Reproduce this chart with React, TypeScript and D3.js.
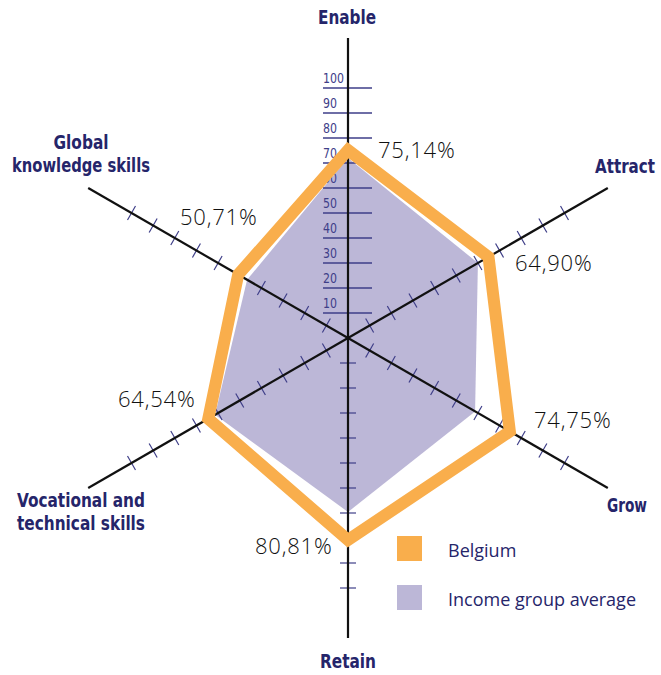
import React from "react";
import * as d3 from "d3";

const axes = ["Enable", "Attract", "Grow", "Retain", "Vocational and technical skills", "Global knowledge skills"];
const belgium = [75.14, 64.9, 74.75, 80.81, 64.54, 50.71];
const incomeAvg = [72, 60, 58.7, 69.6, 61.4, 46.6];
const valueLabels = ["75,14%", "64,90%", "74,75%", "80,81%", "64,54%", "50,71%"];
const tickValues = [10, 20, 30, 40, 50, 60, 70, 80, 90, 100];
const seriesNames = ["Belgium", "Income group average"];

const W = 661, H = 675;
const cx = 348, cy = 338;
const NAVY = "#25256a";
const TICK = "#3e3e88";
const ORANGE = "#F9AE4C";
const PURPLE = "#BCB7D7";
const LABEL_FONT = "'Liberation Sans Narrow', 'DejaVu Sans Condensed', sans-serif";

export default function App() {
  const r = d3.scaleLinear().domain([0, 100]).range([0, 250]);
  const angle = d3.scaleLinear().domain([0, axes.length]).range([0, 2 * Math.PI]);
  const pt = (i: number, v: number) => {
    const a = angle(i);
    return [cx + r(v) * Math.sin(a), cy - r(v) * Math.cos(a)];
  };
  const radial = d3
    .lineRadial<number>()
    .angle((_, i) => angle(i))
    .radius((d) => r(d))
    .curve(d3.curveLinearClosed);

  const axisLabelPos = [
    { x: 347, y: 24, lines: ["Enable"], widths: [58] },
    { x: 625, y: 173, lines: ["Attract"], widths: [60] },
    { x: 627, y: 512, lines: ["Grow"], widths: [40] },
    { x: 348, y: 668, lines: ["Retain"], widths: [56] },
    { x: 81, y: 507, lines: ["Vocational and", "technical skills"], widths: [128, 128] },
    { x: 81, y: 149, lines: ["Global", "knowledge skills"], widths: [55, 138] },
  ];
  const valuePos = [
    { x: 378, y: 158 },
    { x: 515, y: 271 },
    { x: 534, y: 428 },
    { x: 255, y: 554 },
    { x: 118, y: 407 },
    { x: 180, y: 225 },
  ];

  return (
    <svg width={W} height={H} style={{ position: "absolute", left: 0, top: 0, background: "#fff" }}>
      <path d={radial(incomeAvg) || ""} transform={`translate(${cx},${cy})`} fill={PURPLE} />

      {axes.map((_, i) => {
        const a = angle(i);
        return tickValues.map((t) => {
          const [x, y] = pt(i, t);
          if (i === 0) {
            return (
              <line key={`t${i}-${t}`} x1={x - 25} x2={x + 24} y1={y} y2={y} stroke={TICK} strokeWidth={1.3} />
            );
          }
          const half = 8;
          const px = Math.cos(a), py = Math.sin(a);
          return (
            <line
              key={`t${i}-${t}`}
              x1={x - px * half}
              y1={y - py * half}
              x2={x + px * half}
              y2={y + py * half}
              stroke={TICK}
              strokeWidth={1.2}
            />
          );
        });
      })}

      {tickValues.map((t) => {
        const [x, y] = pt(0, t);
        return (
          <text
            key={`tl${t}`}
            x={x - 25}
            y={y - 5}
            fontFamily={LABEL_FONT}
            fontSize={14}
            fill={TICK}
            textLength={t === 100 ? 21 : 14}
            lengthAdjust="spacingAndGlyphs"
          >
            {t}
          </text>
        );
      })}

      {axes.map((_, i) => {
        const [x, y] = pt(i, 120);
        return <line key={`ax${i}`} x1={cx} y1={cy} x2={x} y2={y} stroke="#111" strokeWidth={2.2} />;
      })}

      <path
        d={radial(belgium) || ""}
        transform={`translate(${cx},${cy})`}
        fill="none"
        stroke={ORANGE}
        strokeWidth={12}
        strokeLinejoin="miter"
      />

      {valueLabels.map((l, i) => (
        <text
          key={`vl${i}`}
          x={valuePos[i].x}
          y={valuePos[i].y}
          fontFamily="'Open Sans', sans-serif"
          fontWeight={300}
          fontSize={22}
          letterSpacing={0.8}
          fill="#111"
        >
          {l}
        </text>
      ))}

      {axisLabelPos.map((p, i) => (
        <g key={`al${i}`}>
          {p.lines.map((ln, j) => (
            <text
              key={j}
              x={p.x - p.widths[j] / 2}
              y={p.y + j * 23}
              fontFamily={LABEL_FONT}
              fontWeight="bold"
              fontSize={20}
              fill={NAVY}
              textLength={p.widths[j]}
              lengthAdjust="spacingAndGlyphs"
            >
              {ln}
            </text>
          ))}
        </g>
      ))}

      {seriesNames.map((n, i) => (
        <g key={`lg${i}`} transform={`translate(397,${536 + i * 49})`}>
          <rect width={25} height={25} fill={i === 0 ? ORANGE : PURPLE} />
          <text x={51} y={21} fontFamily="'Open Sans', sans-serif" fontSize={18} fill={NAVY}>
            {n}
          </text>
        </g>
      ))}
    </svg>
  );
}
